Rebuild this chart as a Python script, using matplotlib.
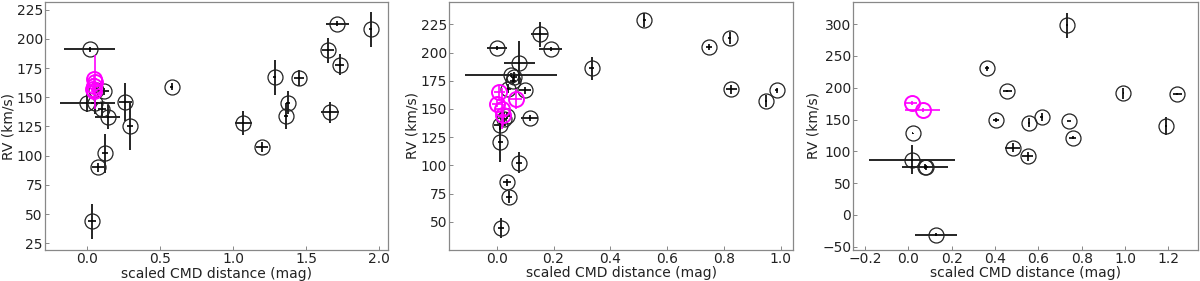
import matplotlib.pyplot as plt
import numpy as np

# panel 1
p1_x = [0.015, 0.0, 0.055, 0.06, 0.112, 0.10, 0.14, 0.26, 0.295, 0.124, 0.073, 0.032,
        0.58, 1.07, 1.195, 1.284, 1.375, 1.362, 1.45, 1.65, 1.664, 1.73, 1.714, 1.943]
p1_y = [191, 145, 145, 156, 155, 140, 133, 146, 125, 102, 90, 44,
        159, 128, 107.5, 167, 145.5, 134, 166.5, 190, 137, 178, 213, 208]
p1_xerr = [0.173, 0.19, 0.03, 0.02, 0.04, 0.03, 0.085, 0.045, 0.02, 0.02, 0.04, 0.03,
           0.01, 0.06, 0.04, 0.01, 0.015, 0.015, 0.035, 0.04, 0.06, 0.03, 0.08, 0.01]
p1_yerr = [2, 8, 9, 3, 3, 6, 10, 16, 20, 17, 4, 15,
           3, 10, 4, 15, 10, 11, 7, 11, 9, 9, 2, 15]
p1_mx = [0.045, 0.05, 0.045, 0.042, 0.048]
p1_my = [166, 163, 160, 157, 155]
p1_mxerr = [0.02, 0.01, 0.02, 0.02, 0.02]
p1_myerr = [3, 23, 3, 3, 3]

# panel 2
p2_x = [0.519, 0.746, 0.82, 0.826, 0.948, 0.986, 0.334, 0.152, 0.19, 0.0, 0.08, 0.05,
        0.062, 0.058, 0.041, 0.099, 0.117, 0.012, 0.013, 0.079, 0.037, 0.043, 0.015,
        0.035, 0.025]
p2_y = [229, 205, 213, 167.5, 157, 166.5, 186, 216, 203, 204, 191, 180,
        178, 175, 168, 166.5, 142, 135.5, 121, 102.5, 85, 72, 44.5,
        144, 141]
p2_xerr = [0.005, 0.01, 0.005, 0.02, 0.005, 0.005, 0.01, 0.03, 0.04, 0.035, 0.053, 0.161,
           0.01, 0.01, 0.01, 0.02, 0.03, 0.02, 0.01, 0.01, 0.015, 0.01, 0.01,
           0.01, 0.01]
p2_yerr = [6, 3, 5, 4, 5, 2, 10, 11, 2, 2, 19, 2,
           5, 3, 4, 3, 3, 4, 18, 9, 3, 5, 9,
           3, 6]
p2_mx = [0.009, 0.002, 0.017, 0.023, 0.068]
p2_my = [165, 154.8, 150.4, 144.5, 158.7]
p2_mxerr = [0.02, 0.02, 0.02, 0.01, 0.02]
p2_myerr = [6, 3, 18, 10, 9]

# panel 3
p3_x = [0.731, 0.362, 0.457, 0.405, 0.558, 0.615, 0.743, 0.758, 0.482, 0.551,
        0.992, 1.242, 1.19, 0.02, 0.018, 0.077, 0.083, 0.128]
p3_y = [298.4, 231, 195, 149, 145, 154, 148, 121.5, 106, 92,
        191, 190.5, 140, 128.5, 87, 76, 75, -31]
p3_xerr = [0.005, 0.01, 0.02, 0.015, 0.005, 0.005, 0.01, 0.015, 0.035, 0.025,
           0.002, 0.02, 0.005, 0.002, 0.198, 0.108, 0.01, 0.096]
p3_yerr = [20, 4, 2, 3, 7, 7, 0.5, 2, 7, 7,
           8, 2, 14, 1, 23, 4, 4, 2]
p3_mx = [0.016, 0.066]
p3_my = [176.5, 165.5]
p3_mxerr = [0.025, 0.08]
p3_myerr = [3, 3]


def draw_panel(ax, x, y, xerr, yerr, mx, my, mxerr, myerr, xlim, ylim, xticks, yticks):
    ax.errorbar(x, y, xerr=xerr, yerr=yerr, fmt="o", ms=10.8, mfc="none", mec="#222222",
                mew=0.9, ecolor="black", elinewidth=1.2, capsize=0, zorder=2)
    ax.errorbar(mx, my, xerr=mxerr, yerr=myerr, fmt="o", ms=10.8, mfc="none", mec="magenta",
                mew=1.4, ecolor="magenta", elinewidth=1.2, capsize=0, zorder=3)
    ax.set_xlim(xlim)
    ax.set_ylim(ylim)
    ax.set_xticks(xticks)
    ax.set_yticks(yticks)
    ax.set_xlabel("scaled CMD distance (mag)", fontsize=10, labelpad=0.5, color="#222222")
    ax.set_ylabel("RV (km/s)", fontsize=10, labelpad=1, color="#222222")
    ax.tick_params(direction="in", length=3, width=0.7, labelsize=10, pad=1.5,
                   colors="#888888", labelcolor="#222222")
    for s in ax.spines.values():
        s.set_color("#888888")
        s.set_linewidth(0.9)


fig = plt.figure(figsize=(12, 2.81), dpi=100)
ax1 = fig.add_axes([0.0375, 0.110, 0.286, 0.883])
ax2 = fig.add_axes([0.3744, 0.112, 0.2867, 0.881])
ax3 = fig.add_axes([0.7111, 0.112, 0.2872, 0.881])

draw_panel(ax1, p1_x, p1_y, p1_xerr, p1_yerr, p1_mx, p1_my, p1_mxerr, p1_myerr,
           (-0.29, 2.062), (19.3, 231.5), np.arange(0, 2.01, 0.5), np.arange(25, 226, 25))
draw_panel(ax2, p2_x, p2_y, p2_xerr, p2_yerr, p2_mx, p2_my, p2_mxerr, p2_myerr,
           (-0.167, 1.044), (25.5, 244.8), np.arange(0, 1.01, 0.2), np.arange(50, 226, 25))
draw_panel(ax3, p3_x, p3_y, p3_xerr, p3_yerr, p3_mx, p3_my, p3_mxerr, p3_myerr,
           (-0.254, 1.337), (-54.5, 335), np.arange(-0.2, 1.21, 0.2), np.arange(-50, 301, 50))

fig.savefig("out.png", dpi=100)
